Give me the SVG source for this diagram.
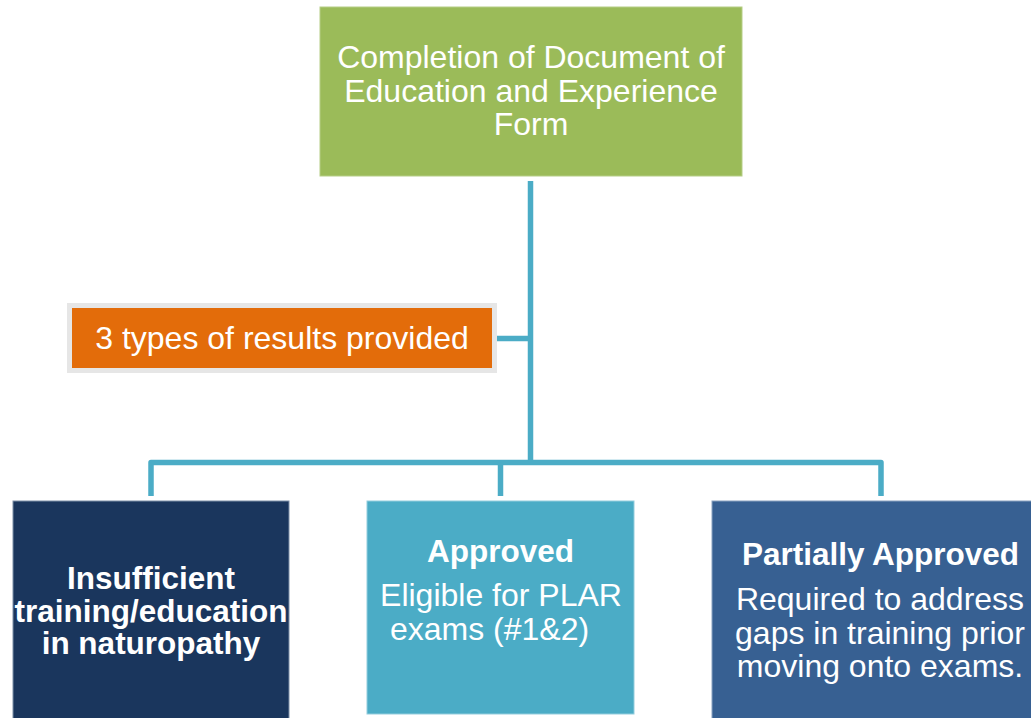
<svg xmlns="http://www.w3.org/2000/svg" width="1031" height="718" viewBox="0 0 1031 718">
<style>
.t{font-family:"Liberation Sans",Arial,sans-serif;fill:#FFFFFF;font-size:32px;text-anchor:middle}
.b{font-weight:bold;font-size:31.5px}
.c{fill:none;stroke:#4BACC6;stroke-width:5.5;stroke-linejoin:round;stroke-linecap:butt}
</style>
<rect width="1031" height="718" fill="#FFFFFF"/>
<g id="connectors">
<line class="c" x1="530.5" y1="181" x2="530.5" y2="462.5"/>
<line class="c" x1="497" y1="338.5" x2="530.5" y2="338.5"/>
<polyline class="c" points="151,496 151,462.5 881,462.5 881,496"/>
<line class="c" x1="500.5" y1="462.5" x2="500.5" y2="496"/>
</g>
<g id="node-top">
<rect x="320" y="7" width="422" height="169" fill="#9BBB59" stroke="#B5CD86" stroke-width="1"/>
<text class="t" x="531" y="68">Completion of Document of</text>
<text class="t" x="531" y="101.5">Education and Experience</text>
<text class="t" x="531" y="135">Form</text>
</g>
<g id="node-label">
<rect x="69.5" y="305.5" width="425" height="65" fill="#E36C0A" stroke="#E6E6E6" stroke-width="5"/>
<text class="t" x="282" y="349">3 types of results provided</text>
</g>
<g id="node-insufficient">
<rect x="13" y="501" width="276" height="222" fill="#1A365D" stroke="#7C8FA8" stroke-width="1"/>
<text class="t b" x="151" y="589">Insufficient</text>
<text class="t b" x="151" y="621.5">training/education</text>
<text class="t b" x="151" y="654">in naturopathy</text>
</g>
<g id="node-approved">
<rect x="367" y="501" width="267" height="213" fill="#4BACC6" stroke="#93CDDD" stroke-width="1"/>
<text class="t b" x="500.5" y="562">Approved</text>
<text class="t" x="501" y="606">Eligible for PLAR</text>
<text class="t" x="489.5" y="639.5">exams (#1&amp;2)</text>
</g>
<g id="node-partial">
<rect x="712" y="501" width="338" height="222" fill="#376092" stroke="#8AA1C0" stroke-width="1"/>
<text class="t b" x="880.5" y="565">Partially Approved</text>
<text class="t" x="880" y="610">Required to address</text>
<text class="t" x="880" y="643.5">gaps in training prior</text>
<text class="t" x="880" y="677">moving onto exams.</text>
</g>
</svg>
